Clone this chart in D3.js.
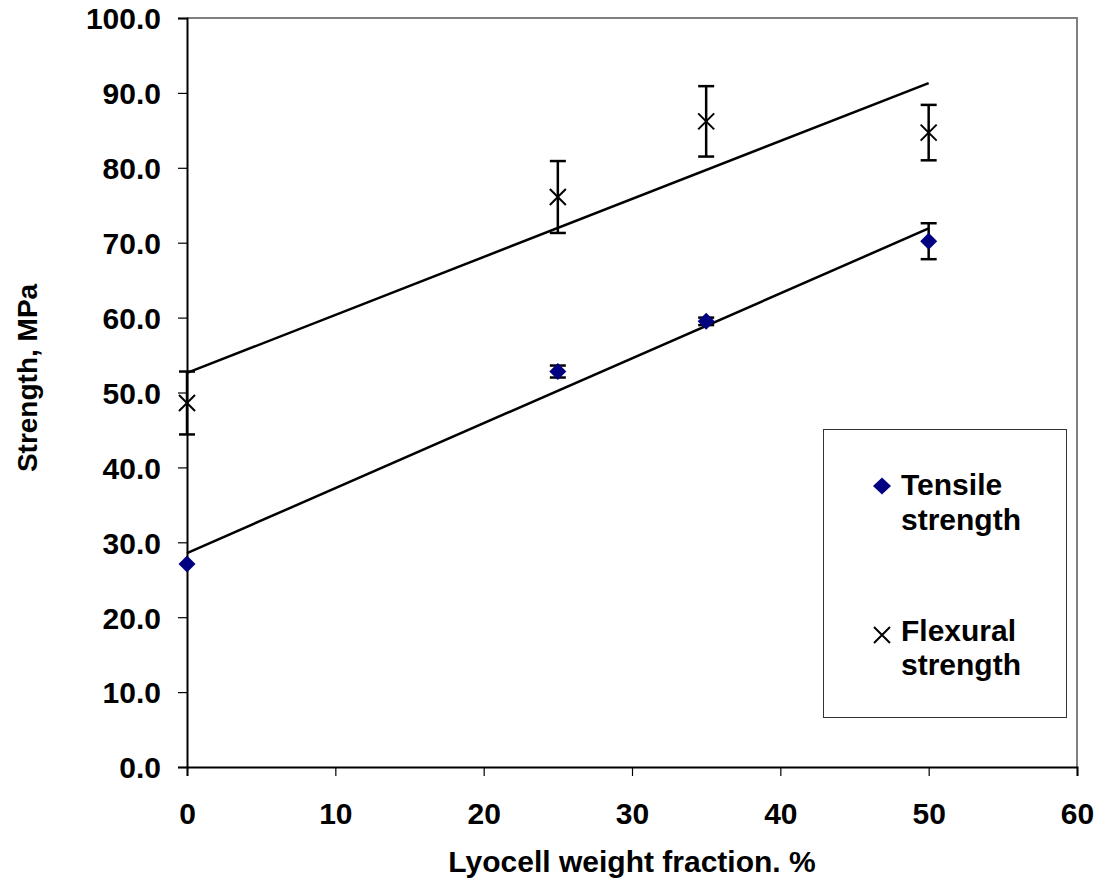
<!DOCTYPE html>
<html>
<head>
<meta charset="utf-8">
<script src="https://cdn.jsdelivr.net/npm/d3@7"></script>
<style>
  html, body { margin: 0; padding: 0; background: #fff; }
  svg text { font-family: "Liberation Sans", Arial, sans-serif; font-weight: bold; fill: #000; }
</style>
</head>
<body>
<svg id="chart" width="1101" height="886"></svg>
<script>
// Lyocell weight fraction (%) and measured strengths (MPa)
const fractions = [0, 25, 35, 50];
const tensile = [27.1, 52.8, 59.5, 70.2];
const tensileErr = [0, 0.8, 0.5, 2.4];
const flexural = [48.6, 76.1, 86.2, 84.7];
const flexuralErr = [4.2, 4.8, 4.7, 3.7];
const xTicks = [0, 10, 20, 30, 40, 50, 60];
const yTicks = [0, 10, 20, 30, 40, 50, 60, 70, 80, 90, 100];

const svg = d3.select("#chart");
const plotL = 187, plotR = 1077, plotT = 18, plotB = 767;

const x = d3.scaleLinear().domain([0, 60]).range([plotL, plotR]);
const y = d3.scaleLinear().domain([0, 100]).range([plotB, plotT]);

// Least-squares line through a series
function fit(xs, ys) {
  const mx = d3.mean(xs), my = d3.mean(ys);
  let sxy = 0, sxx = 0;
  xs.forEach((v, i) => { sxy += (v - mx) * (ys[i] - my); sxx += (v - mx) ** 2; });
  const b = sxy / sxx;
  return { a: my - b * mx, b };
}

// plot-area frame (top and right edges)
svg.append("path")
  .attr("d", `M${plotL},${plotT}H${plotR}V${plotB}`)
  .attr("fill", "none").attr("stroke", "#808080").attr("stroke-width", 2);

// axes
const yAxis = d3.axisLeft(y).tickValues(yTicks).tickFormat(d3.format(".1f")).tickSize(9).tickPadding(17);
const gy = svg.append("g").attr("transform", `translate(${plotL},0)`).call(yAxis);
gy.select(".domain").attr("stroke", "#000").attr("stroke-width", 2);
gy.selectAll(".tick line").attr("stroke", "#000").attr("stroke-width", 1.2);
gy.selectAll(".tick text").style("font-size", "30px").attr("dy", "0.36em");

const xAxis = d3.axisBottom(x).tickValues(xTicks).tickFormat(d3.format("d")).tickSize(9).tickPadding(27);
const gx = svg.append("g").attr("transform", `translate(0,${plotB})`).call(xAxis);
gx.select(".domain").attr("stroke", "#000").attr("stroke-width", 2);
gx.selectAll(".tick line").attr("stroke", "#000").attr("stroke-width", 1.2);
gx.selectAll(".tick text").style("font-size", "30px").attr("dy", "0.71em");

// axis titles
svg.append("text").attr("x", 632).attr("y", 872).attr("text-anchor", "middle")
  .style("font-size", "30px").text("Lyocell weight fraction. %");
svg.append("text").attr("transform", "translate(37,378) rotate(-90)").attr("text-anchor", "middle")
  .style("font-size", "28px").text("Strength, MPa");

// linear trendlines
[tensile, flexural].forEach(ys => {
  const f = fit(fractions, ys);
  const x0 = d3.min(fractions), x1 = d3.max(fractions);
  svg.append("line")
    .attr("x1", x(x0)).attr("y1", y(f.a + f.b * x0))
    .attr("x2", x(x1)).attr("y2", y(f.a + f.b * x1))
    .attr("stroke", "#000").attr("stroke-width", 2.5);
});

// error bars
function errorBars(ys, errs) {
  const g = svg.append("g").attr("stroke", "#000").attr("stroke-width", 2.5);
  fractions.forEach((fx, i) => {
    if (!errs[i]) return;
    const cx = x(fx), hi = y(ys[i] + errs[i]), lo = y(ys[i] - errs[i]);
    g.append("line").attr("x1", cx).attr("x2", cx).attr("y1", hi).attr("y2", lo);
    g.append("line").attr("x1", cx - 8).attr("x2", cx + 8).attr("y1", hi).attr("y2", hi);
    g.append("line").attr("x1", cx - 8).attr("x2", cx + 8).attr("y1", lo).attr("y2", lo);
  });
}
errorBars(tensile, tensileErr);
errorBars(flexural, flexuralErr);

// markers
const diamond = "M0,-8.5L8.5,0L0,8.5L-8.5,0Z";
const cross = "M-8,-8L8,8M-8,8L8,-8";
svg.append("g").selectAll("path").data(fractions).join("path")
  .attr("transform", (d, i) => `translate(${x(d)},${y(tensile[i])})`)
  .attr("d", diamond).attr("fill", "#000080");
svg.append("g").selectAll("path").data(fractions).join("path")
  .attr("transform", (d, i) => `translate(${x(d)},${y(flexural[i])})`)
  .attr("d", cross).attr("fill", "none").attr("stroke", "#000").attr("stroke-width", 2);

// legend
const lg = svg.append("g");
lg.append("rect").attr("x", 823.5).attr("y", 429.5).attr("width", 243).attr("height", 288)
  .attr("fill", "#fff").attr("stroke", "#333").attr("stroke-width", 1);
lg.append("path").attr("transform", "translate(882,486)").attr("d", "M0,-8.5L9,0L0,8.5L-9,0Z").attr("fill", "#000080");
lg.append("path").attr("transform", "translate(882,635)").attr("d", "M-8,-8L8,8M-8,8L8,-8")
  .attr("fill", "none").attr("stroke", "#000").attr("stroke-width", 2);
[["Tensile", 495], ["strength", 530], ["Flexural", 641], ["strength", 675]].forEach(([t, yy]) => {
  lg.append("text").attr("x", 901).attr("y", yy).style("font-size", "30px").text(t);
});
</script>
</body>
</html>
